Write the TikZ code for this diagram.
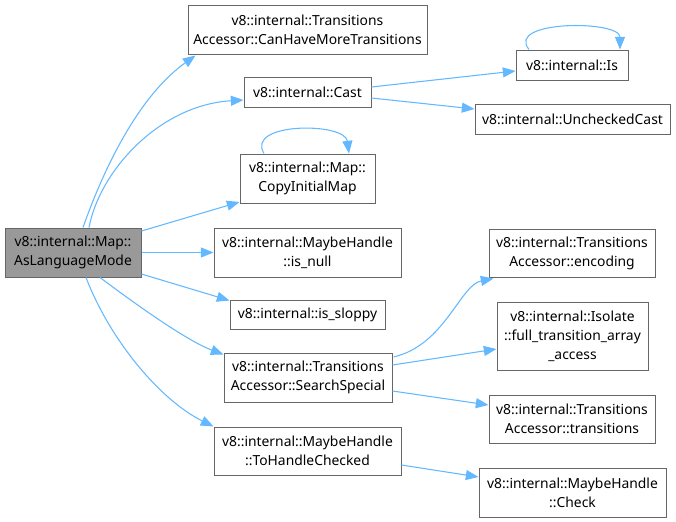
\documentclass[tikz,border=0pt]{standalone}
\usepackage{fontspec}
\setmainfont{Noto Sans}
\usetikzlibrary{arrows.meta,calc}
\definecolor{edgeblue}{HTML}{63B8FF}
\definecolor{nodeborder}{HTML}{666666}
\definecolor{rootfill}{HTML}{999999}
\tikzset{
  fn/.style={draw=nodeborder, line width=0.75pt, fill=white, align=center, inner sep=0pt,
    font=\fontsize{10.4}{14.25}\selectfont, text=black},
  rootfn/.style={fn, fill=rootfill},
  call/.style={draw=edgeblue, line width=0.8pt, -{Triangle[length=9.5pt,width=7.5pt]}},
}
\begin{document}
\begin{tikzpicture}[x=0.75pt,y=-0.75pt]
\useasboundingbox (0,0) rectangle (676,522);
\node[rootfn, minimum width=102pt, minimum height=36.75pt] (root) at (73,252.5) {v8::internal::Map::\\AsLanguageMode};
\node[fn, minimum width=179.25pt, minimum height=36.75pt] (canhave) at (307.5,29.5) {v8::internal::Transitions\\Accessor::CanHaveMoreTransitions};
\node[fn, minimum width=95.25pt, minimum height=22.5pt] (cast) at (307.5,92) {v8::internal::Cast};
\node[fn, minimum width=84pt, minimum height=22.5pt] (is) at (572,65) {v8::internal::Is};
\node[fn, minimum width=146.25pt, minimum height=22.5pt] (unch) at (572.5,119) {v8::internal::UncheckedCast};
\node[fn, minimum width=101.25pt, minimum height=36.75pt] (copy) at (307.5,178.5) {v8::internal::Map::\\CopyInitialMap};
\node[fn, minimum width=140.25pt, minimum height=36.75pt] (isnull) at (307.5,252.5) {v8::internal::MaybeHandle\\::is\_null};
\node[fn, minimum width=116.25pt, minimum height=21.75pt] (sloppy) at (307.5,314.5) {v8::internal::is\_sloppy};
\node[fn, minimum width=126pt, minimum height=36.75pt] (search) at (308,377.5) {v8::internal::Transitions\\Accessor::SearchSpecial};
\node[fn, minimum width=140.25pt, minimum height=36pt] (tohandle) at (307.5,451) {v8::internal::MaybeHandle\\::ToHandleChecked};
\node[fn, minimum width=124.5pt, minimum height=36pt] (enc) at (572,253) {v8::internal::Transitions\\Accessor::encoding};
\node[fn, minimum width=113.25pt, minimum height=51pt] (iso) at (572.5,336) {v8::internal::Isolate\\::full\_transition\_array\\\_access};
\node[fn, minimum width=124.5pt, minimum height=36pt] (trans) at (572,419) {v8::internal::Transitions\\Accessor::transitions};
\node[fn, minimum width=140.25pt, minimum height=36.75pt] (check) at (572.5,492.5) {v8::internal::MaybeHandle\\::Check};

\draw[call] ($(root.north)+(10,0)$) .. controls (105,165) and (140,95) .. ($(canhave.south west)+(8,1)$);
\draw[call] ($(root.north)+(16,0)$) .. controls (100,170) and (160,105) .. ($(cast.west)+(0,8)$);
\draw[call] ($(root.east)+(0,-21.5)$) -- ($(copy.west)+(0,23.5)$);
\draw[call] (root.east) -- (isnull.west);
\draw[call] ($(root.east)+(0,21.5)$) -- ($(sloppy.north west)+(0,1)$);
\draw[call] ($(root.south)+(27,0)$) .. controls (130,300) and (185,340) .. ($(search.north west)+(0,2)$);
\draw[call] ($(root.south)+(13,0)$) .. controls (110,340) and (160,400) .. ($(tohandle.north west)+(0,0)$);
\draw[call] ($(cast.east)+(0,-5)$) -- ($(is.west)+(0,6)$);
\draw[call] ($(cast.east)+(0,6)$) -- ($(unch.west)+(0,-10)$);
\draw[call] ($(is.north)+(-43,0)$) .. controls (505,20) and (620,20) .. ($(is.north)+(48,0)$);
\draw[call] ($(copy.north)+(-43.5,0)$) .. controls (245,122) and (345,122) .. ($(copy.north)+(41.5,0)$);
\draw[call] ($(search.east)+(1,-20.5)$) .. controls (445,345) and (460,285) .. ($(enc.south west)+(5,1)$);
\draw[call] ($(search.east)+(0,-12.5)$) -- ($(iso.west)+(0,13)$);
\draw[call] ($(search.east)+(0,13.5)$) -- ($(trans.west)+(0,-14)$);
\draw[call] ($(tohandle.east)+(0,14)$) -- ($(check.west)+(0,-15.5)$);
\end{tikzpicture}
\end{document}
